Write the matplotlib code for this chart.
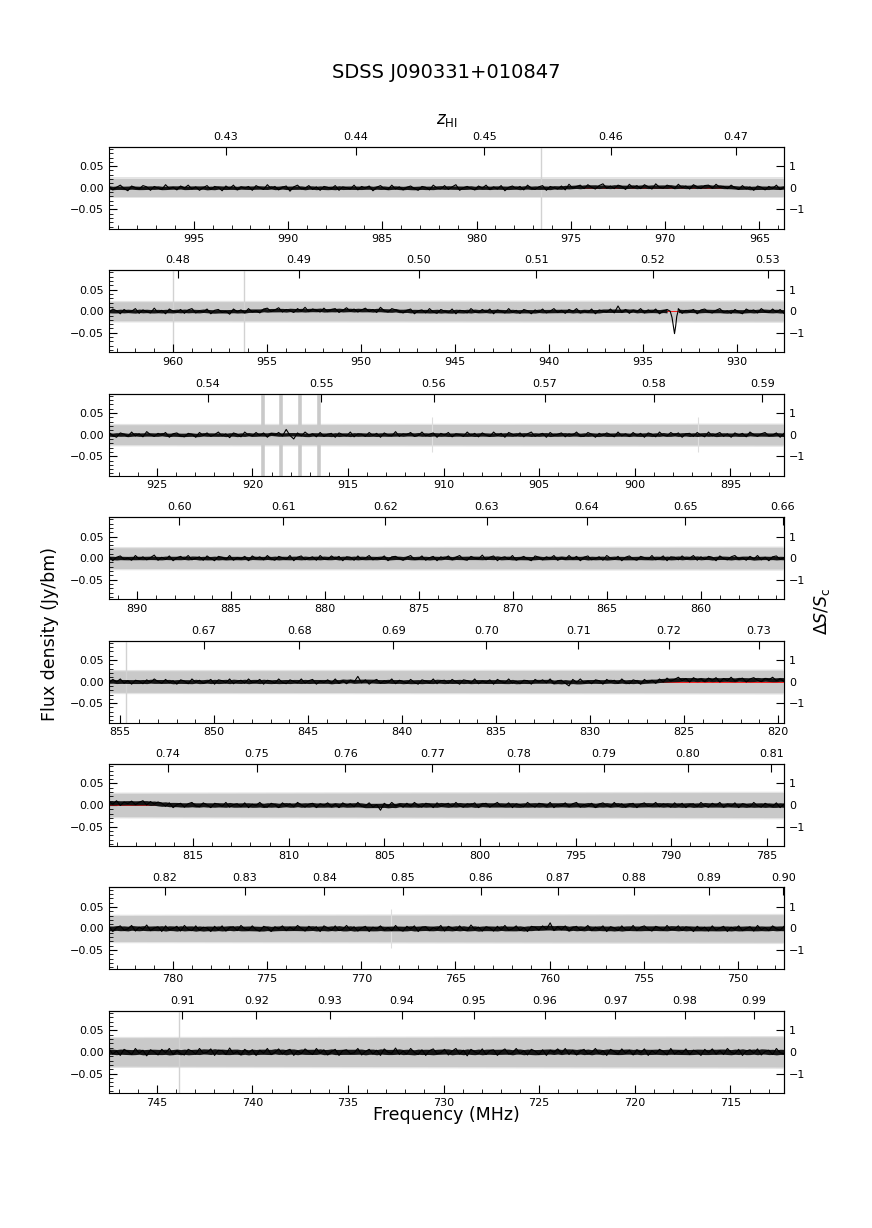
import numpy as np
import matplotlib
matplotlib.use('Agg')
import matplotlib.pyplot as plt
from matplotlib.ticker import MultipleLocator, FixedLocator, FormatStrFormatter

HI_REST = 1420.405752  # MHz
S_CONT = 0.05  # Jy, continuum flux for the right hand axis

title = 'SDSS J090331+010847'

# frequency edges of each panel (MHz), high -> low
panel_start = [999.5, 963.4, 927.5, 891.5, 855.6, 819.4, 783.4, 747.5]
panel_end = [963.7, 927.5, 892.2, 855.6, 819.7, 784.1, 747.55, 712.2]

# grey noise envelope, half width in mJy at start / end of panel
band_start = [21, 22, 23, 24, 25, 27, 30, 33]
band_end = [21, 23, 24, 25, 26, 29, 32, 35]

# channel-to-channel scatter of the black spectrum, half width in mJy
spec_scatter = [4.0, 4.0, 4.0, 4.0, 4.5, 5.0, 5.5, 6.0]

# flagged channels (MHz)
flag_thin = [[976.6], [960.0, 956.2], [], [], [854.7], [], [], [743.85]]
flag_wide = [[], [], [919.45, 918.5, 917.5, 916.5], [], [], [], [], []]

# narrow spikes in the noise envelope (MHz, mJy)
spike_freq = [[], [], [910.6, 896.7], [], [], [], [768.4], []]
spike_amp = [[], [], [40, 40], [], [], [], [45], []]

# model baseline (Jy)
baseline = [0.0, 0.0, 0.0, 0.0, 0.0, 0.0, 0.0, 0.0]

# HI absorption line in panel 2 (MHz, Jy)
abs_freq = [933.55, 933.45, 933.38, 933.32, 933.26, 933.2, 933.13]
abs_flux = [0.0, -0.015, -0.035, -0.052, -0.035, -0.012, 0.0]

# spectra in mJy, channels evenly spread over each panel
spec_1 = [3, -5, 1, 6, -2, -7, 4, 0, -3, 5, 2, -6, 3, -1, -4, 7, -2, 1, -5, 4,
          -1, 6, -3, 2, -6, 0, 5, -4, 3, 1, -7, 4, -2, 6, -5, 2, -1, 3, -6, 5,
          0, -4, 7, -2, 3, -5, 1, 4, -8, 2, 6, -3, -1, 5, -4, 2, -6, 3, 1, -2,
          5, -6, 2, 0, -3, 6, -5, 3, -1, 4, -7, 1, 5, -2, -4, 6, -3, 2, -5, 1,
          4, -2, -6, 3, 1, -5, 6, -1, -3, 5, -4, 2, 7, -6, 0, 3, -2, -5, 4, -1,
          6, -4, 2, -3, 5, -7, 1, 4, -2, 3, -5, 6, -1, -4, 2, 5, -6, 3, 0, -3,
          4, -5, 8, -1, 3, 6, -2, 7, 1, -3, 5, 9, -1, 4, -2, 6, 3, -4, 8, 0,
          5, -2, 7, 2, -3, 9, 1, -1, 6, 3, -2, 8, 0, 4, -3, 7, 2, -2, 5, 6,
          -1, 8, 1, 3, -2, 6, 0, -4, 5, -3, 2, -6, 4, 1, -5, 3, -2, 6, -4, 1]
spec_2 = [-3, 5, 1, -6, 4, -2, 0, 6, -5, 3, -1, -4, 7, -3, 2, -6, 5, 0, -2, 4,
          -5, 3, 6, -4, 1, -2, 5, -6, 2, 4, -3, 0, -7, 5, -1, 3, -4, 6, -2, 1,
          -4, 5, 7, -1, 3, 8, -2, 4, 1, -3, 6, 0, 9, -1, 5, 2, -2, 7, -1, 4,
          6, -3, 2, 8, 0, 5, -2, 3, 7, -1, 4, -3, 9, 1, -2, 6, 3, 0, -4, 2,
          5, -6, 1, 3, -4, 6, -2, -5, 4, 0, -3, 5, -6, 2, 1, -4, 6, -1, -3, 4,
          -2, 5, -6, 3, 0, -4, 6, -3, 2, -5, 4, 1, -6, 3, -2, 5, -4, 0, 6, -3,
          2, -5, 4, -1, 6, -4, 1, -3, 5, -6, 3, 0, -2, 5, -4, 12, -3, 4, -5, 2,
          -1, 6, -4, 3, -2, 5, -6, 1, 4, -3, 0, 6, -5, 2, -1, 4, -6, 3, 5, -2,
          -4, 2, 6, -3, 1, -5, 4, -2, -6, 5, 0, 3, -4, 6, -1, -3, 5, -2, 4, -5]
spec_3 = [5, -2, -6, 4, 1, -4, 6, -3, 2, -5, 7, 0, -4, 3, -1, 5, -6, 2, 4, -3,
          -5, 3, 1, -6, 5, -2, 4, -4, 0, 6, -3, 2, -7, 4, 1, -5, 6, -1, -3, 5,
          -2, 4, -6, 3, -1, 5, -3, 12, -2, -10, 4, -3, 6, -1, 2, -5, 5, -4, 1, 3,
          -6, 4, 0, -3, 6, -5, 2, 1, -4, 5, -2, 3, -6, 4, -1, -3, 7, -4, 2, 0,
          5, -4, -2, 6, -3, 1, 4, -6, 3, -1, 5, -5, 2, 0, -4, 6, -2, 3, -5, 4,
          -1, -4, 6, -2, 3, -6, 5, 1, -3, 4, -5, 2, 6, -4, 0, 3, -6, 5, -2, 1,
          4, -5, 2, -1, 6, -3, -4, 5, 1, -6, 3, -2, 4, 0, -5, 6, -3, 2, -4, 5,
          -2, 3, -6, 4, 1, -5, 6, -2, -3, 5, -1, 4, -6, 2, 3, -4, 5, -1, -5, 6,
          -3, 1, 5, -4, 2, -6, 4, -1, 3, -5, 6, 0, -4, 2, 5, -3, -1, 4, -6, 3]
spec_4 = [4, -6, 2, 5, -3, 0, -5, 6, -2, 3, -4, 1, 7, -5, 2, -3, 5, -6, 1, 4,
          -2, 6, -4, 0, 3, -5, 5, -1, -6, 4, 2, -3, 6, -5, 1, -2, 4, -6, 5, -1,
          3, -4, 6, -2, -5, 4, 1, -3, 6, -6, 2, 5, -4, 0, 3, -5, 6, -2, -3, 5,
          -1, 4, -6, 3, 2, -5, 5, -3, 0, 6, -4, 1, -2, 5, -6, 3, 4, -1, -5, 2,
          6, -3, -2, 5, -5, 1, 4, -6, 3, -1, 5, -4, 2, 6, -3, -5, 4, 0, -2, 7,
          -4, 2, 5, -6, 1, 3, -3, 6, -5, 0, 4, -2, -6, 5, 2, -4, 3, -1, 6, -5,
          1, -3, 6, -2, 4, -6, 2, 5, -4, -1, 3, -5, 6, 0, -3, 4, -6, 2, 5, -2,
          -5, 4, 1, -3, 6, -4, -1, 5, -6, 3, 2, -4, 5, -2, 0, 6, -5, 3, -3, 4,
          2, -6, 5, -1, -4, 3, 6, -3, 1, -5, 4, -2, 6, -4, 2, -6, 3, 5, -3, 1]
spec_5 = [-3, 5, -1, 6, -4, 2, -6, 3, 1, -5, 4, -2, 6, 0, -4, 5, -3, 2, -6, 4,
          1, -5, 6, -2, 3, -4, -1, 5, -6, 4, 2, -3, 6, -5, 0, 3, -4, 6, -2, -1,
          5, -6, 3, 1, -4, 6, -2, -5, 4, 0, -3, 6, -4, 2, 5, -6, 1, -2, 4, -3,
          6, -4, 2, -5, 3, -1, 12, -3, 4, -6, 1, 5, -4, 2, -2, 6, -5, 3, 0, -4,
          5, -2, -6, 4, 1, -3, 6, -5, 2, 3, -4, 5, -1, -6, 4, 2, -3, 6, -5, 1,
          -2, 4, -6, 5, 0, -3, 6, -4, 1, -5, 3, 2, -6, 5, -1, 4, -3, 6, -5, 2,
          3, -4, -10, 5, -2, 6, -3, 1, -5, 4, 2, -6, 5, -1, 3, -4, 6, -2, -5, 4,
          1, -6, 5, -2, 3, -4, 6, -1, 8, 1, 5, 10, 2, 7, -1, 9, 4, 6, 0, 8,
          3, 9, -1, 7, 2, 10, 1, 5, 8, -1, 6, 9, 3, 0, 7, 4, 10, 2, 6, 1]
spec_6 = [8, 2, 10, -1, 7, 3, 9, 1, 6, 10, 0, 8, 2, 7, 4, -3, 5, -6, 1, 4,
          -5, 3, 6, -2, -4, 5, 0, -6, 4, 2, -3, 6, -5, 1, 3, -4, 5, -6, 2, -1,
          6, -3, -5, 4, 1, -6, 5, -2, 3, -4, 6, 0, -5, 2, 4, -6, 3, -1, 5, -4,
          2, -6, 5, -1, 3, -4, 6, -3, -2, 5, -5, 1, -12, 4, -3, 6, -2, 1, -5, 4,
          -3, 6, -1, -5, 4, 2, -6, 5, -3, 1, 4, -4, 6, -2, -5, 3, 0, 5, -6, 2,
          4, -5, 1, 6, -3, -2, 5, -6, 3, 0, -4, 6, -1, -5, 4, 2, -3, 6, -6, 1,
          -2, 5, -4, 3, 6, -5, 1, -3, 4, -6, 2, 5, -1, -4, 6, -3, 3, -5, 1, 4,
          -6, 2, 5, -3, -1, 6, -4, 3, 0, -5, 5, -2, 4, -6, 1, 3, -4, 6, -2, -5,
          4, -1, 6, -5, 2, -3, 5, -6, 3, 1, -4, 6, -2, -5, 4, 0, -3, 5, -6, 2]
spec_7 = [5, -7, 2, 6, -4, -1, 7, -6, 3, -2, 8, -5, 1, 4, -7, 6, -3, 0, 5, -6,
          7, -2, -5, 6, -4, 3, 1, -7, 5, -3, 6, -6, 2, 4, -5, 7, -1, -4, 6, -3,
          -6, 5, 2, -7, 4, -1, 6, -5, 3, -3, 7, 0, -6, 5, -2, 4, -7, 6, 1, -4,
          6, -5, -2, 7, -3, 4, -6, 1, 5, -7, 3, -1, 6, -4, 2, -5, 7, -3, -6, 5,
          -1, 6, -7, 3, 4, -5, 2, -2, 7, -6, 5, 0, -4, 6, -3, -5, 8, -2, 3, -6,
          4, 1, -6, 5, -3, 7, -4, -1, 6, -5, 2, -7, 5, 3, -4, 6, -2, 13, -5, 4,
          -3, 6, -6, 2, 5, -4, -1, 7, -5, 3, -2, 6, -7, 4, 1, -5, 6, -3, -4, 7,
          -5, 3, 6, -2, -6, 5, 1, -4, 7, -3, -1, 6, -5, 4, 2, -7, 5, -2, 3, -6,
          6, -4, 1, 5, -7, 3, -2, 6, -5, 0, 4, -6, 7, -3, 2, -5, 6, -1, -4, 5]
spec_8 = [7, -5, 2, -8, 6, 1, -6, 8, -3, 4, -9, 5, 0, -7, 6, -2, 8, -6, 3, -4,
          -7, 6, 2, -5, 8, -3, -1, 7, -8, 4, 3, -6, 9, -4, 1, -7, 6, -2, 5, -8,
          4, -3, 8, -6, -1, 7, -5, 3, 6, -8, 2, -4, 7, 0, -6, 8, -3, 5, -7, 1,
          6, -8, 3, 5, -4, -2, 8, -7, 1, 6, -5, 4, -8, 7, -1, -3, 9, -6, 2, -5,
          8, -1, -6, 5, -8, 3, 7, -4, -2, 6, -7, 2, 8, -5, 4, -9, 6, 0, -4, 7,
          -6, 3, 5, -8, 1, 7, -5, -2, 8, -4, 3, -7, 6, 2, -6, 5, -8, 4, -1, 7,
          -3, 8, -6, 4, -7, 2, 6, -5, -1, 8, -4, 3, -8, 6, 1, -5, 7, -3, 4, -7,
          5, -2, 7, -8, 3, -4, 6, 1, -7, 8, -5, 2, -3, 7, -6, 4, 0, -8, 6, -2,
          7, -5, 3, -6, 8, -1, -4, 6, -8, 2, 5, -3, 7, -7, 1, 4, -6, 8, -2, -4]
spectra = [spec_1, spec_2, spec_3, spec_4, spec_5, spec_6, spec_7, spec_8]


def nu2z(nu):
    return HI_REST / nu - 1


def z2nu(z):
    return HI_REST / (1 + z)


def running_mean(y, n=9):
    k = np.ones(n)
    return np.convolve(y, k, mode='same') / np.convolve(np.ones(len(y)), k, mode='same')


fig, axes = plt.subplots(8, 1, figsize=(8.72, 12.28), dpi=100)
fig.subplots_adjust(left=0.125, right=0.899, top=0.8805, bottom=0.11, hspace=0.506)

for i, ax in enumerate(axes):
    flux = np.array(spectra[i]) / 1000.
    freq = np.linspace(panel_start[i], panel_end[i], len(flux))
    smooth = running_mean(flux)

    # noise envelope
    bfreq = [panel_start[i], panel_end[i]]
    bw = np.array([band_start[i], band_end[i]]) / 1000.
    ax.fill_between(bfreq, -bw - 0.003, bw + 0.003, color='#e4e4e4', lw=0, zorder=1)
    ax.fill_between(bfreq, -bw, bw, color='#c9c9c9', lw=0, zorder=1)
    for f, a in zip(spike_freq[i], spike_amp[i]):
        ax.vlines(f, -a / 1000., a / 1000., color='#dedede', lw=0.8, zorder=1)

    # flagged channels
    for f in flag_thin[i]:
        ax.axvline(f, color='#d2d2d2', lw=1.0, zorder=1.5)
    for f in flag_wide[i]:
        ax.axvline(f, color='#c9c9c9', lw=2.6, zorder=1.5)

    ax.axhline(baseline[i], color='red', lw=0.6, zorder=2)

    # dense channel scatter around the smoothed trace, absorption left thin
    sc = spec_scatter[i] / 1000.
    if i == 1:
        keep = (freq > max(abs_freq)) | (freq < min(abs_freq))
        for part in (freq > max(abs_freq), freq < min(abs_freq)):
            ax.fill_between(freq[part], smooth[part] - sc, smooth[part] + sc,
                            color='#141414', lw=0, zorder=2.5)
        freq = np.concatenate([freq[keep], abs_freq])
        flux = np.concatenate([flux[keep], abs_flux])
        order = np.argsort(freq)
        freq, flux = freq[order], flux[order]
    else:
        ax.fill_between(freq, smooth - sc, smooth + sc, color='#141414', lw=0, zorder=2.5)
    ax.plot(freq, flux, color='black', lw=0.8, zorder=3)

    ax.set_xlim(panel_start[i], panel_end[i])
    ax.set_ylim(-0.095, 0.095)
    ax.xaxis.set_major_locator(MultipleLocator(5))
    ax.xaxis.set_minor_locator(MultipleLocator(1))
    ax.yaxis.set_major_locator(MultipleLocator(0.05))
    ax.yaxis.set_minor_locator(MultipleLocator(0.01))
    ax.tick_params(which='both', direction='in', top=False, right=False, labelsize=8)
    ax.tick_params(which='major', length=5.5)
    ax.tick_params(which='minor', length=3)

    # redshift on top, only ticks inside the panel
    z_lo, z_hi = nu2z(panel_start[i]), nu2z(panel_end[i])
    zt = np.arange(np.ceil(z_lo * 100), np.floor(z_hi * 100) + 1) / 100.
    secx = ax.secondary_xaxis('top', functions=(nu2z, z2nu))
    secx.xaxis.set_major_locator(FixedLocator(zt))
    secx.xaxis.set_major_formatter(FormatStrFormatter('%.2f'))
    secx.tick_params(direction='in', length=6, labelsize=8)

    # relative flux on the right
    secy = ax.secondary_yaxis('right', functions=(lambda y: y / S_CONT, lambda r: r * S_CONT))
    secy.yaxis.set_major_locator(MultipleLocator(1))
    secy.tick_params(direction='in', length=5.5, labelsize=8)

fig.text(0.512, 0.941, title, ha='center', va='center', fontsize=14)
fig.text(0.512, 0.902, r'$z_{\rm HI}$', ha='center', va='center', fontsize=12)
fig.text(0.512, 0.092, 'Frequency (MHz)', ha='center', va='center', fontsize=12.5)
fig.text(0.057, 0.484, 'Flux density (Jy/bm)', ha='center', va='center',
         rotation=90, fontsize=12.5)
fig.text(0.943, 0.502, r'$\Delta S/S_{\rm c}$', ha='center', va='center',
         rotation=90, fontsize=12.5)

fig.savefig('out.png', dpi=100)
